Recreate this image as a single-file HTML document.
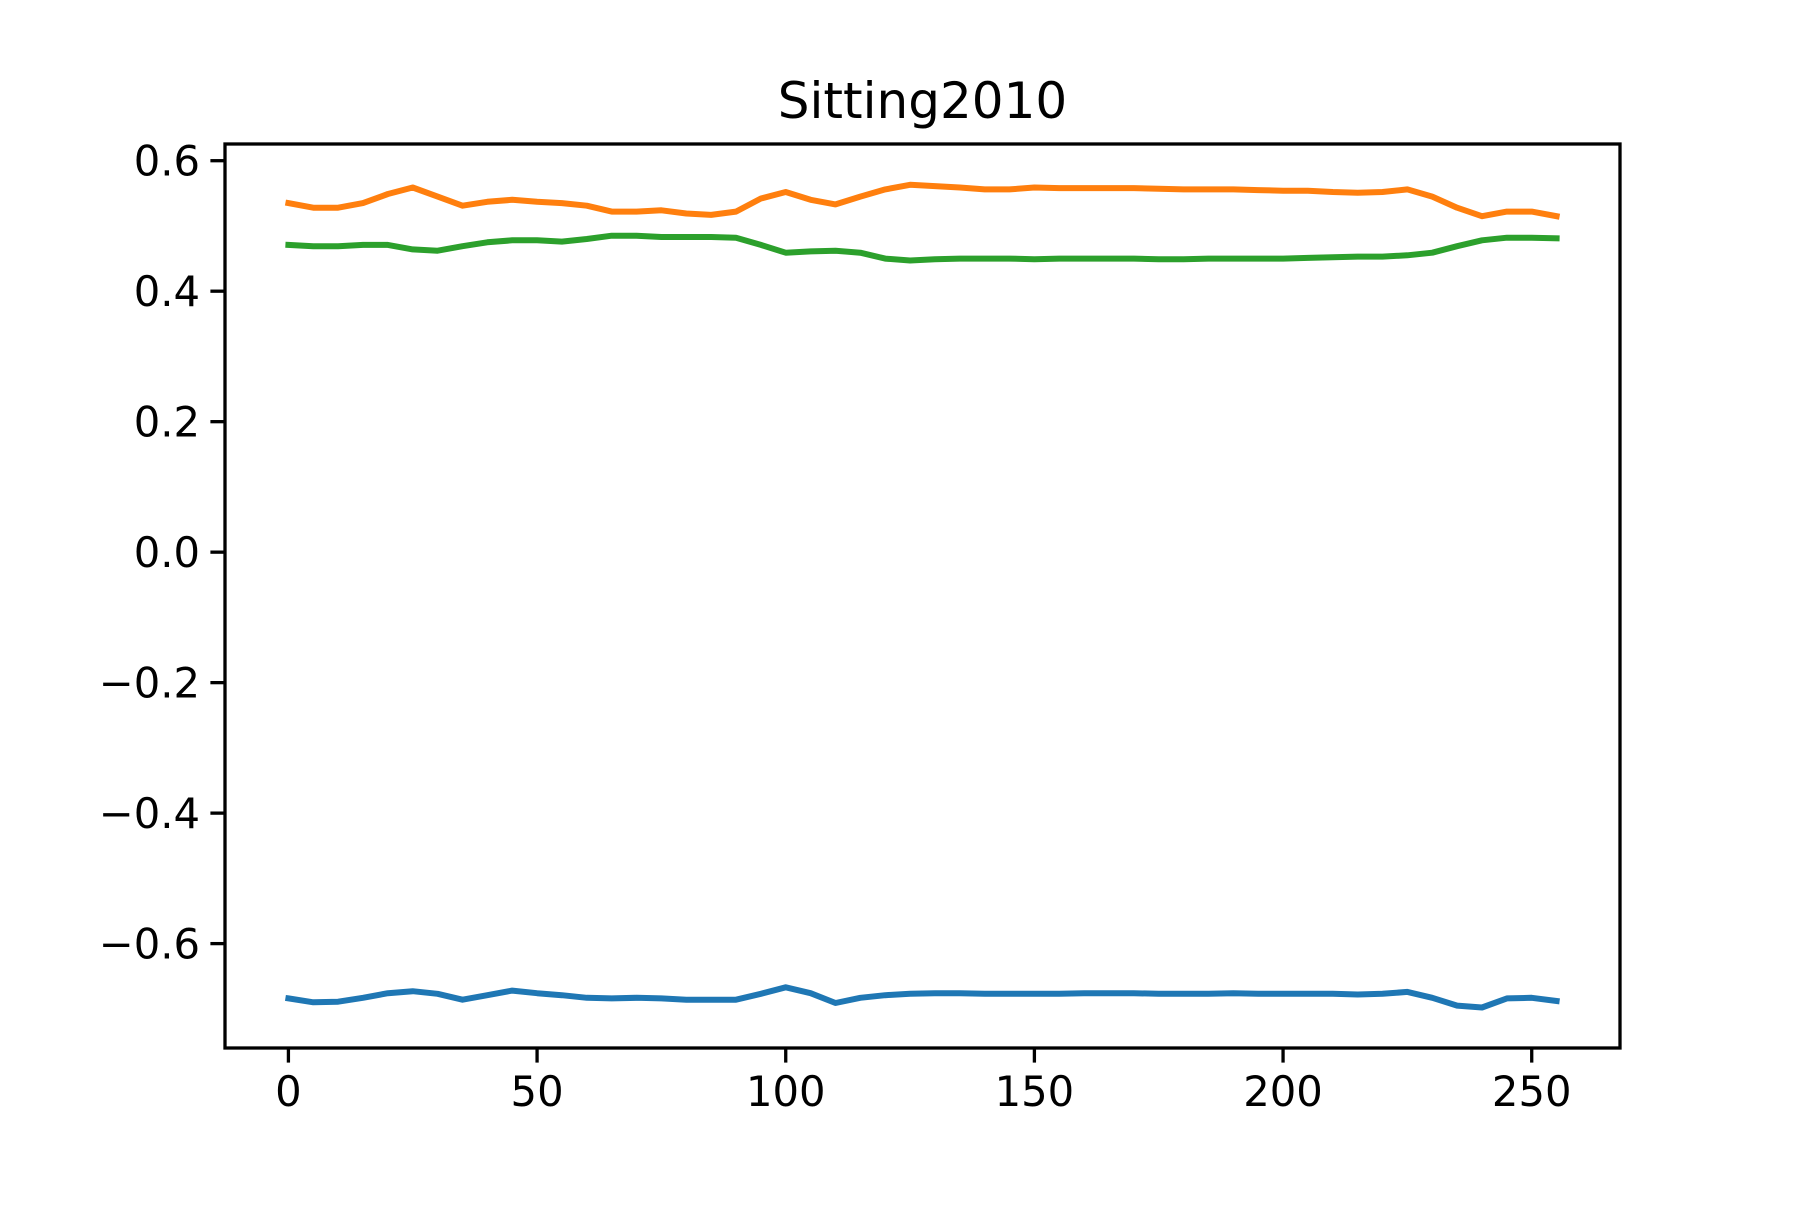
<!DOCTYPE html>
<html><head><meta charset="utf-8"><style>
html,body{margin:0;padding:0;background:#fff;}
svg text{font-family:"DejaVu Sans","Liberation Sans",sans-serif;fill:#000;}
</style></head><body>
<svg id="chart" width="1800" height="1200" viewBox="0 0 1800 1200" xmlns="http://www.w3.org/2000/svg">
<rect width="1800" height="1200" fill="#fff"/>
<text x="922.5" y="118" font-size="50" text-anchor="middle">Sitting2010</text>
<g id="plot"></g>
</svg>
<script>
const xIndex = [0,5,10,15,20,25,30,35,40,45,50,55,60,65,70,75,80,85,90,95,100,105,110,115,120,125,130,135,140,145,150,155,160,165,170,175,180,185,190,195,200,205,210,215,220,225,230,235,240,245,250,255];
const seriesBlue = [-0.684,-0.690,-0.689,-0.683,-0.676,-0.673,-0.677,-0.686,-0.679,-0.672,-0.676,-0.679,-0.683,-0.684,-0.683,-0.684,-0.686,-0.686,-0.686,-0.677,-0.667,-0.676,-0.691,-0.683,-0.679,-0.677,-0.676,-0.676,-0.677,-0.677,-0.677,-0.677,-0.676,-0.676,-0.676,-0.677,-0.677,-0.677,-0.676,-0.677,-0.677,-0.677,-0.677,-0.678,-0.677,-0.674,-0.683,-0.695,-0.698,-0.684,-0.683,-0.688];
const seriesOrange = [0.535,0.528,0.528,0.535,0.549,0.559,0.545,0.531,0.537,0.540,0.537,0.535,0.531,0.522,0.522,0.524,0.519,0.517,0.522,0.542,0.552,0.540,0.533,0.545,0.556,0.563,0.561,0.559,0.556,0.556,0.559,0.558,0.558,0.558,0.558,0.557,0.556,0.556,0.556,0.555,0.554,0.554,0.552,0.551,0.552,0.556,0.545,0.528,0.515,0.522,0.522,0.515];
const seriesGreen = [0.471,0.469,0.469,0.471,0.471,0.464,0.462,0.469,0.475,0.478,0.478,0.476,0.480,0.485,0.485,0.483,0.483,0.483,0.482,0.471,0.459,0.461,0.462,0.459,0.450,0.447,0.449,0.450,0.450,0.450,0.449,0.450,0.450,0.450,0.450,0.449,0.449,0.450,0.450,0.450,0.450,0.451,0.452,0.453,0.453,0.455,0.459,0.469,0.478,0.482,0.482,0.481];
const xTicks = [0,50,100,150,200,250];
const yTicks = [-0.6,-0.4,-0.2,0.0,0.2,0.4,0.6];
const yTickLabels = ["\u22120.6","\u22120.4","\u22120.2","0.0","0.2","0.4","0.6"];

const L=225,R=1620,T=144,B=1048;
const xMin=-12.75,xMax=267.75,yMin=-0.760,yMax=0.6256;
const xs=v=>L+(v-xMin)/(xMax-xMin)*(R-L);
const ys=v=>B-(v-yMin)/(yMax-yMin)*(B-T);
const NS="http://www.w3.org/2000/svg";
const plot=document.getElementById('plot');
function mk(tag,attrs){const e=document.createElementNS(NS,tag);for(const k in attrs)e.setAttribute(k,attrs[k]);plot.appendChild(e);return e;}

const series=[[seriesBlue,'#1f77b4','series-blue'],[seriesOrange,'#ff7f0e','series-orange'],[seriesGreen,'#2ca02c','series-green']];
series.forEach(([arr,col,name])=>{
  const pts=arr.map((v,i)=>xs(xIndex[i]).toFixed(1)+','+ys(v).toFixed(1)).join(' ');
  const p=mk('polyline',{points:pts,fill:'none',stroke:col,'stroke-width':6,'stroke-linejoin':'round','stroke-linecap':'square'});
  
  
});

const frame=mk('rect',{x:L,y:T,width:R-L,height:B-T,fill:'none',stroke:'#000','stroke-width':3.3});



xTicks.forEach(t=>{
  const x=xs(t);
  const tk=mk('line',{x1:x,x2:x,y1:B,y2:B+14.6,stroke:'#000','stroke-width':3.3});
  
  
  const lb=mk('text',{x:x,y:B+58,'font-size':41.7,'text-anchor':'middle'});
  lb.textContent=String(t);
  
  
});
yTicks.forEach((t,i)=>{
  const y=ys(t);
  const tk=mk('line',{x1:L-14.6,x2:L,y1:y,y2:y,stroke:'#000','stroke-width':3.3});
  
  
  const lb=mk('text',{x:L-25,y:y+15,'font-size':41.7,'text-anchor':'end'});
  lb.textContent=yTickLabels[i];
  
  
});
</script>
</body></html>
